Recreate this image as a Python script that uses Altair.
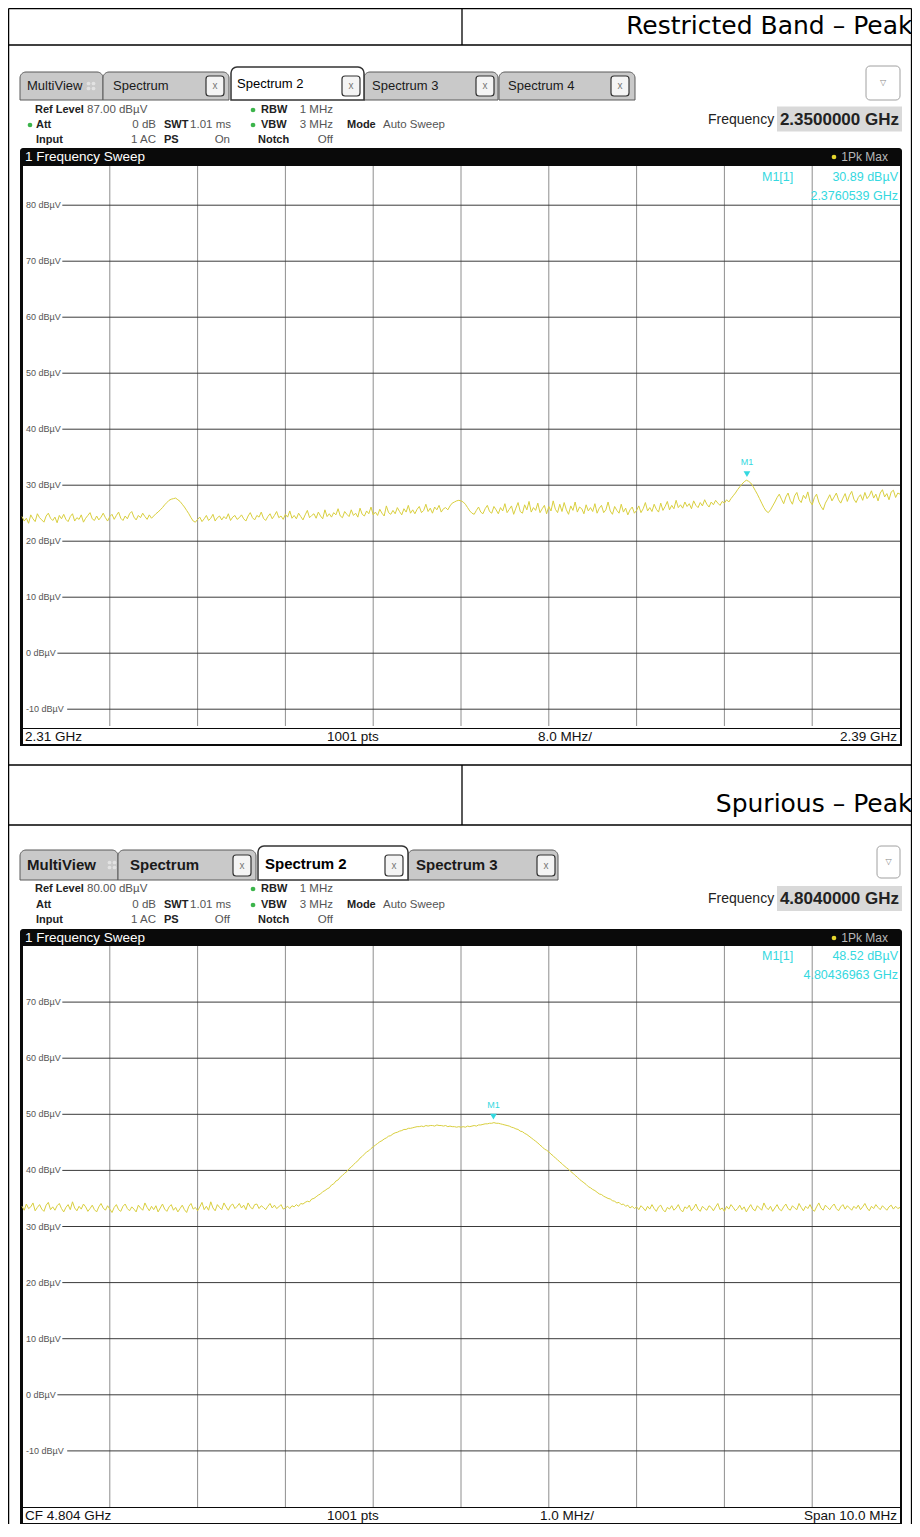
import altair as alt
import pandas as pd

# ---------------- data ----------------
P1_START, P1_STOP = 2.31, 2.39          # GHz
P1_YDOM = [-13, 87]                      # dBµV (ref level 87)
P1_XGRID = [2.318, 2.326, 2.334, 2.342, 2.350, 2.358, 2.366, 2.374, 2.382]
P1_YGRID = [80, 70, 60, 50, 40, 30, 20, 10, 0, -10]
P1_MARKER = [2.3760539, 30.89]
P1_LEVELS = [
    24.4, 23.6, 24.1, 23.2, 24.7, 24.0, 23.5, 24.9, 24.2, 23.8, 23.4, 24.5, 25.0, 24.1, 23.7, 24.3, 23.3, 24.6, 24.0, 24.8,
    23.9, 23.5, 24.4, 24.9, 23.6, 24.2, 23.9, 24.7, 23.4, 24.1, 24.6, 25.1, 24.0, 23.7, 24.5, 23.8, 24.3, 25.0, 24.2, 23.6,
    24.4, 24.8, 23.9, 24.6, 25.2, 24.1, 23.7, 24.5, 24.0, 24.9, 25.3, 24.3, 23.8, 24.6, 24.2, 25.0, 24.4, 23.9, 24.7, 24.1,
    24.5, 24.9, 25.2, 25.6, 26.0, 26.5, 26.9, 27.3, 27.5, 27.6, 27.7, 27.4, 27.1, 26.6, 26.1, 25.5, 24.9, 24.2, 23.6, 23.4,
    23.9, 24.3, 23.5, 24.0, 24.6, 23.7, 24.1, 24.8, 23.6, 24.2, 24.5, 23.8, 24.4, 24.0, 24.9, 23.7, 24.3, 24.6, 23.9, 24.2,
    24.7, 24.0, 23.6, 24.5, 25.1, 24.2, 23.8, 24.6, 24.3, 25.2, 24.1, 23.7, 24.4, 24.9, 24.0, 24.6, 25.3, 24.2, 24.5, 23.9,
    24.8, 24.3, 25.4, 24.1, 24.6, 24.0, 25.0, 24.4, 23.8, 24.7, 25.5, 24.2, 24.6, 24.9, 24.1, 25.2, 24.5, 24.0, 25.6, 24.4,
    24.9, 24.3, 25.1, 24.7, 25.8, 24.5, 24.2, 25.3, 24.8, 24.4, 25.6, 24.6, 25.0, 24.3, 25.9, 24.8, 24.5, 25.4, 24.9, 26.1,
    24.7, 25.2, 24.6, 25.7, 25.0, 24.5, 26.3, 25.1, 24.8, 25.5, 24.9, 26.0, 25.3, 24.7, 25.8, 25.2, 26.4, 25.0, 25.6, 24.9,
    25.7, 26.2, 25.1, 25.5, 26.6, 25.3, 25.9, 25.0, 26.1, 25.6, 26.4, 25.2, 25.8, 26.0, 25.6, 26.3, 26.8, 27.0, 27.2, 27.3,
    27.2, 27.0, 26.6, 26.0, 25.4, 25.0, 24.8, 25.5, 26.1, 25.2, 24.9, 25.8, 26.4, 25.3, 25.0, 26.2, 25.6, 24.9, 26.0, 25.4,
    26.7, 25.1, 25.7, 26.3, 24.8, 25.9, 26.9, 25.3, 25.0, 26.5, 25.6, 27.1, 25.2, 26.0, 25.5, 26.8, 25.1, 25.8, 26.4, 24.9,
    26.2, 25.4, 27.2, 25.7, 25.1, 26.6, 25.3, 26.9, 25.6, 24.8, 26.3, 25.5, 27.0, 25.2, 26.1, 25.8, 24.9, 26.5, 25.4, 26.0,
    25.3, 26.7, 25.0, 25.9, 26.4, 25.1, 25.6, 27.0, 25.4, 24.8, 26.2, 25.5, 25.0, 26.6, 25.2, 25.9, 24.7, 25.6, 26.1, 25.0,
    25.5, 26.3, 25.1, 25.8, 26.9, 25.4, 26.0, 25.3, 26.6, 25.7, 25.2, 26.8, 25.5, 26.2, 27.1, 25.6, 26.4, 25.8, 27.3, 26.0,
    26.5, 25.9, 27.0, 26.2, 26.7, 25.8, 27.2, 26.4, 26.0, 26.9, 26.3, 27.4, 26.6, 26.1, 27.0, 26.5, 27.3, 26.8, 26.4, 27.1,
    26.8, 27.4, 27.0, 27.6, 28.1, 28.6, 29.2, 29.7, 30.2, 30.6, 30.89, 30.7, 30.4, 29.8, 29.1, 28.4, 27.6, 26.8, 26.0, 25.4,
    25.1, 25.6, 26.3, 27.0, 27.8, 28.4, 27.5, 26.7, 27.9, 28.6, 27.3, 26.6, 28.1, 28.7, 27.4, 26.9, 28.2, 27.6, 28.8, 27.1,
    26.5, 27.8, 28.4, 27.0, 26.2, 25.6, 26.8, 27.5, 28.3, 27.2, 27.9, 28.6, 27.4, 26.8, 27.7, 28.5, 27.1, 28.2, 28.9, 27.5,
    26.9, 27.8, 28.3, 27.3, 28.7, 27.6, 28.1, 29.0, 27.7, 28.4, 27.2, 28.6, 29.2, 27.9, 28.5, 27.4, 28.8, 29.1, 27.8, 28.6,
    28.4,
]

P2_START, P2_STOP = 4.799, 4.809         # GHz (CF 4.804, span 10 MHz)
P2_YDOM = [-20, 80]                      # dBµV (ref level 80)
P2_XGRID = [4.800, 4.801, 4.802, 4.803, 4.804, 4.805, 4.806, 4.807, 4.808]
P2_YGRID = [70, 60, 50, 40, 30, 20, 10, 0, -10]
P2_MARKER = [4.80436963, 48.52]
P2_LEVELS = [
    33.6, 32.9, 34.0, 33.2, 33.5, 34.2, 32.8, 33.4, 33.9, 33.1, 32.7, 33.8, 34.3, 33.0, 33.5, 32.9, 33.7, 34.1, 33.2, 32.6,
    33.4, 33.9, 33.0, 34.4, 33.3, 32.8, 33.6, 33.1, 34.0, 33.5, 32.7, 33.2, 33.8, 33.0, 32.6, 33.5, 34.1, 33.3, 32.9, 33.7,
    33.1, 32.5, 33.4, 33.9, 33.0, 32.7, 33.6, 34.0, 33.2, 32.8, 33.5, 33.1, 32.6, 33.8, 33.3, 32.9, 34.2, 33.4, 32.8, 33.6,
    33.0, 33.7, 32.6, 33.3, 34.0, 33.1, 32.7, 33.5, 33.9, 32.9, 33.4, 32.6, 33.2, 33.8, 33.0, 32.5, 33.6, 34.1, 33.1, 33.4,
    32.8, 33.5, 34.3, 33.0, 33.6, 32.9, 34.4, 33.3, 32.8, 33.9, 33.4, 33.0, 34.2, 33.5, 32.9, 33.7, 34.0, 33.2, 33.6, 34.1,
    33.3, 33.8, 33.0, 34.2, 33.5, 33.1, 33.9, 34.0, 33.2, 33.7, 33.4, 33.0, 33.6, 34.1, 33.3, 33.8, 33.2, 33.5, 33.9, 33.1,
    33.3, 33.6, 33.2, 33.7, 33.5, 33.9, 33.6, 34.1, 34.0, 34.3, 34.5, 34.4, 34.9, 35.0, 35.3, 35.6, 35.8, 36.2, 36.4, 36.7,
    36.9, 37.4, 37.6, 38.1, 38.3, 38.8, 39.1, 39.5, 39.8, 40.3, 40.6, 41.0, 41.4, 41.7, 42.2, 42.5, 42.9, 43.3, 43.5, 43.9,
    44.2, 44.5, 44.8, 45.1, 45.3, 45.6, 45.8, 46.1, 46.2, 46.5, 46.7, 46.8, 47.0, 47.1, 47.3, 47.3, 47.5, 47.5, 47.6, 47.7,
    47.8, 47.8, 47.9, 47.8, 48.0, 47.9, 48.0, 48.0, 47.9, 48.1, 48.0, 48.0, 47.9, 48.0, 47.8, 47.9, 47.8, 47.8, 47.7, 47.8,
    47.7, 47.8, 47.7, 47.9, 47.8, 47.9, 48.0, 47.9, 48.1, 48.1, 48.2, 48.3, 48.3, 48.4, 48.4, 48.52, 48.4, 48.4, 48.3, 48.2,
    48.1, 48.0, 47.9, 47.7, 47.6, 47.4, 47.3, 47.0, 46.9, 46.6, 46.4, 46.1, 45.8, 45.5, 45.2, 44.9, 44.5, 44.2, 43.8, 43.6,
    43.3, 42.9, 42.6, 42.2, 41.9, 41.5, 41.2, 40.8, 40.5, 40.2, 39.8, 39.5, 39.1, 38.8, 38.4, 38.1, 37.8, 37.5, 37.1, 36.9,
    36.6, 36.4, 36.1, 35.8, 35.7, 35.4, 35.2, 35.0, 34.9, 34.6, 34.5, 34.2, 34.3, 33.9, 34.0, 33.6, 33.8, 33.3, 33.6, 33.2,
    33.5, 33.0, 33.7, 33.3, 32.8, 33.6, 33.1, 33.9, 33.2, 32.7, 33.5, 33.8, 33.0, 32.6, 33.4, 33.1, 33.7, 32.9, 33.3, 33.9,
    33.0, 32.6, 33.5, 33.2, 33.8, 32.8, 33.3, 34.0, 33.1, 32.7, 33.6, 33.2, 32.9, 33.7, 33.4, 32.8, 33.5, 34.1, 33.0, 33.3,
    32.7, 33.6, 33.1, 33.9, 33.4, 32.8, 33.2, 33.8, 33.0, 33.5, 32.6, 33.3, 33.9, 33.1, 32.8, 33.7, 33.3, 32.9, 34.2, 33.4,
    33.0, 33.6, 32.7, 33.3, 33.9, 33.1, 32.8, 33.5, 34.0, 33.2, 32.9, 33.7, 33.3, 33.0, 34.1, 33.4, 32.8, 33.6, 33.2, 33.9,
    33.1, 32.7, 33.5, 34.2, 33.3, 32.9, 33.8, 33.4, 33.0, 33.6, 34.0, 33.2, 32.8, 33.5, 33.9, 33.1, 33.7, 33.3, 32.9, 33.6,
    33.2, 33.8, 33.0, 33.5, 34.1, 33.3, 32.8, 33.6, 33.2, 33.9, 33.4, 33.0, 33.7, 33.3, 32.9, 33.5, 33.8, 33.1, 33.6, 33.2,
    33.4,
]

# ---------------- style ----------------
FONT = "Liberation Sans, Arial, sans-serif"
TFONT = "DejaVu Sans, Liberation Sans, sans-serif"
CYAN = "#34d8e0"
YEL = "#d9cf3e"
OFF = 8  # page margin -> chart coordinates
RIGHT = 911.5  # right border of the page table (page px)


def _df(rows, cols):
    recs = []
    for r in rows:
        d = {}
        for c, v in zip(cols, r):
            d[c] = v - OFF if c in ("x", "y", "x2", "y2") else v
        recs.append(d)
    return pd.DataFrame(recs)


def rects(rows, **props):
    df = _df(rows, ["x", "y", "x2", "y2"])
    return alt.Chart(df).mark_rect(**props).encode(
        x=alt.X("x:Q", scale=None, axis=None), x2="x2:Q",
        y=alt.Y("y:Q", scale=None, axis=None), y2="y2:Q")


def rules(rows, **props):
    df = _df(rows, ["x", "y", "x2", "y2"])
    return alt.Chart(df).mark_rule(**props).encode(
        x=alt.X("x:Q", scale=None, axis=None), x2="x2:Q",
        y=alt.Y("y:Q", scale=None, axis=None), y2="y2:Q")


def texts(rows, **props):
    df = _df(rows, ["x", "y", "t"])
    p = dict(baseline="middle", font=FONT)
    p.update(props)
    return alt.Chart(df).mark_text(**p).encode(
        x=alt.X("x:Q", scale=None, axis=None),
        y=alt.Y("y:Q", scale=None, axis=None), text="t:N")


def dots(rows, **props):
    df = _df(rows, ["x", "y"])
    return alt.Chart(df).mark_circle(opacity=1, **props).encode(
        x=alt.X("x:Q", scale=None, axis=None),
        y=alt.Y("y:Q", scale=None, axis=None))


def spectrum(levels, start, stop, xgrid, ygrid, ydom, top, bottom, marker):
    xs = alt.Scale(domain=[start, stop], range=[22 - OFF, 900 - OFF], nice=False, zero=False)
    ys = alt.Scale(domain=ydom, range=[bottom - OFF, top - OFF], nice=False, zero=False)
    n = len(levels)
    step = (stop - start) / (n - 1)
    tr = pd.DataFrame({"f": [start + i * step for i in range(n)], "v": levels})
    vg = pd.DataFrame({"f": xgrid})
    labs = [f"{v} dBµV" for v in ygrid]
    hg = pd.DataFrame({"v": ygrid, "lab": labs,
                       "lx": [26 - OFF + len(s) * 4.9 + 2 for s in labs]})
    mk = pd.DataFrame({"f": [marker[0]], "v": [marker[1]], "t": ["M1"]})
    out = []
    out.append(alt.Chart(vg).mark_rule(color="#8e8e8e", strokeWidth=1).encode(
        x=alt.X("f:Q", scale=xs, axis=None),
        y=alt.value(top - OFF), y2=alt.value(bottom - OFF)))
    out.append(alt.Chart(hg).mark_rule(color="#3a3a3a", strokeWidth=1).encode(
        y=alt.Y("v:Q", scale=ys, axis=None),
        x=alt.X("lx:Q", scale=None, axis=None), x2=alt.value(900 - OFF)))
    out.append(alt.Chart(hg).mark_text(align="left", baseline="middle", fontSize=9,
                                       color="#555555", font=FONT).encode(
        x=alt.value(26 - OFF), y=alt.Y("v:Q", scale=ys, axis=None), text="lab:N"))
    out.append(alt.Chart(tr).mark_line(color=YEL, strokeWidth=1).encode(
        x=alt.X("f:Q", scale=xs, axis=None), y=alt.Y("v:Q", scale=ys, axis=None)))
    out.append(alt.Chart(mk).mark_point(shape="triangle-down", filled=True, color=CYAN,
                                        size=45, opacity=1, yOffset=-6).encode(
        x=alt.X("f:Q", scale=xs, axis=None), y=alt.Y("v:Q", scale=ys, axis=None)))
    out.append(alt.Chart(mk).mark_text(color=CYAN, fontSize=9, font=FONT, yOffset=-18).encode(
        x=alt.X("f:Q", scale=xs, axis=None), y=alt.Y("v:Q", scale=ys, axis=None), text="t:N"))
    return out


def panel(tabs, active, xboxes, tabtexts, activetext, tabfont, mv_icon, dropdown,
          info_y, att_dot, refl, ps_val, freq_val, title_y, footer_y, footer, plot_top,
          plot_bottom):
    L = []
    # tabs
    L.append(rects(tabs, fill="#c9c9c9", stroke="#5a5a5a", strokeWidth=1,
                   cornerRadiusTopLeft=6, cornerRadiusTopRight=6))
    L.append(rects([active], fill="#ffffff", stroke="#333333", strokeWidth=1.5,
                   cornerRadiusTopLeft=6, cornerRadiusTopRight=6))
    L.append(rects(xboxes, fill="#f4f4f4", stroke="#333333", strokeWidth=1.2, cornerRadius=3))
    L.append(texts([(b[0] / 2 + b[2] / 2, b[1] / 2 + b[3] / 2, "x") for b in xboxes],
                   align="center", fontSize=10, color="#777777"))
    L.append(texts(tabtexts, align="left", color="#1a1a1a", **tabfont))
    L.append(texts([activetext], align="left", color="#000000", **tabfont))
    L.append(dots([(mv_icon[0] - 2.5, mv_icon[1] - 2.5), (mv_icon[0] + 2.5, mv_icon[1] - 2.5),
                   (mv_icon[0] - 2.5, mv_icon[1] + 2.5), (mv_icon[0] + 2.5, mv_icon[1] + 2.5)],
                  color="#e2e2e2", size=14))
    L.append(rects([dropdown], fill="#ffffff", stroke="#a0a0a0", strokeWidth=1, cornerRadius=4))
    L.append(texts([((dropdown[0] + dropdown[2]) / 2, (dropdown[1] + dropdown[3]) / 2, "▽")],
                   align="center", fontSize=8, color="#888888", font=TFONT))
    # info block
    r1, r2, r3 = info_y
    gd = [(253, r1), (253, r2)] + ([(30, r2)] if att_dot else [])
    L.append(dots(gd, color="#3cb44b", size=22))
    L.append(texts([(35, r1, "Ref Level"), (36, r2, "Att"), (36, r3, "Input"),
                    (164, r2, "SWT"), (164, r3, "PS"), (261, r1, "RBW"), (261, r2, "VBW"),
                    (258, r3, "Notch"), (347, r2, "Mode")],
                   align="left", fontSize=11, fontWeight="bold", color="#222222"))
    L.append(texts([(87, r1, refl), (383, r2, "Auto Sweep")],
                   align="left", fontSize=11.5, color="#555555"))
    L.append(texts([(156, r2, "0 dB"), (156, r3, "1 AC"), (231, r2, "1.01 ms"),
                    (230, r3, ps_val), (333, r1, "1 MHz"), (333, r2, "3 MHz"),
                    (333, r3, "Off")],
                   align="right", fontSize=11.5, color="#555555"))
    fy = (r1 + r2) / 2 + 2
    L.append(texts([(708, fy, "Frequency")], align="left", fontSize=14, color="#222222"))
    L.append(rects([(777, fy - 13, 902, fy + 12)], fill="#d9d9d9"))
    L.append(texts([(899, fy, freq_val)], align="right", fontSize=17, fontWeight="bold",
                   color="#222222"))
    # frame, title bar, plot area, footer
    L.append(rects([(20, title_y - 9, 902, footer_y + 9)], fill="#0a0a0a",
                   cornerRadiusTopLeft=3, cornerRadiusTopRight=3))
    L.append(rects([(23, plot_top, 900, plot_bottom)], fill="#ffffff"))
    L.append(rects([(23, plot_bottom + 1, 900, footer_y + 7)], fill="#ffffff"))
    L.append(texts([(25, title_y, "1 Frequency Sweep")], align="left", fontSize=13.5,
                   color="#ffffff"))
    L.append(dots([(834, title_y)], color="#e6d62e", size=22))
    L.append(texts([(888, title_y, "1Pk Max")], align="right", fontSize=12, color="#b8b8b8"))
    L.append(texts(footer[0], align="left", fontSize=13.5, color="#111111"))
    L.append(texts(footer[1], align="right", fontSize=13.5, color="#111111"))
    return L


layers = []
# page background table
layers.append(rules([(8.6, 8.6, RIGHT, 8.6), (8.6, 45, RIGHT, 45), (8.6, 765, RIGHT, 765),
                     (8.6, 825, RIGHT, 825), (8.6, 8.6, 8.6, 1537), (RIGHT, 8.6, RIGHT, 1537),
                     (462, 8.6, 462, 45), (462, 765, 462, 825)], color="#000000",
                    strokeWidth=1.3))
layers.append(texts([(RIGHT + 1, 34, "Restricted Band – Peak")], align="right",
                    baseline="alphabetic", fontSize=25, font=TFONT, color="#000000"))
layers.append(texts([(RIGHT + 1, 812, "Spurious – Peak")], align="right", baseline="alphabetic",
                    fontSize=25, font=TFONT, color="#000000"))

# ----- panel 1 -----
layers += panel(
    tabs=[(20, 72, 103, 100), (103, 72, 229, 100), (364, 72, 498, 100), (499, 72, 635, 100)],
    active=(231, 67, 364, 100),
    xboxes=[(206, 76, 224, 96), (342, 76, 360, 96), (476, 76, 494, 96), (611, 76, 629, 96)],
    tabtexts=[(27, 86, "MultiView"), (113, 86, "Spectrum"), (372, 86, "Spectrum 3"),
              (508, 86, "Spectrum 4")],
    activetext=(237, 84, "Spectrum 2"),
    tabfont=dict(fontSize=13),
    mv_icon=(91, 86),
    dropdown=(866, 66, 900, 100),
    info_y=(110, 125, 140), att_dot=True, refl="87.00 dBµV", ps_val="On",
    freq_val="2.3500000 GHz", title_y=157, footer_y=737,
    footer=([(25, 737, "2.31 GHz"), (327, 737, "1001 pts"), (538, 737, "8.0 MHz/")],
            [(897, 737, "2.39 GHz")]),
    plot_top=166, plot_bottom=728)
layers += spectrum(P1_LEVELS, P1_START, P1_STOP, P1_XGRID, P1_YGRID, P1_YDOM, 166, 726, P1_MARKER)
layers.append(texts([(762, 177, "M1[1]")], align="left", fontSize=12.5, color=CYAN))
layers.append(texts([(898, 177, "30.89 dBµV"), (898, 196, "2.3760539 GHz")], align="right",
                    fontSize=12.5, color=CYAN))

# ----- panel 2 -----
layers += panel(
    tabs=[(20, 850, 118, 880), (118, 850, 256, 880), (408, 850, 558, 880)],
    active=(258, 846, 408, 880),
    xboxes=[(233, 855, 251, 876), (385, 855, 403, 876), (537, 855, 555, 876)],
    tabtexts=[(27, 865, "MultiView"), (130, 865, "Spectrum"), (416, 865, "Spectrum 3")],
    activetext=(265, 864, "Spectrum 2"),
    tabfont=dict(fontSize=15, fontWeight="bold"),
    mv_icon=(112, 865),
    dropdown=(877, 846, 900, 878),
    info_y=(889, 905, 920), att_dot=False, refl="80.00 dBµV", ps_val="Off",
    freq_val="4.8040000 GHz", title_y=938, footer_y=1516,
    footer=([(25, 1516, "CF 4.804 GHz"), (327, 1516, "1001 pts"), (540, 1516, "1.0 MHz/")],
            [(897, 1516, "Span 10.0 MHz")]),
    plot_top=946, plot_bottom=1507)
layers += spectrum(P2_LEVELS, P2_START, P2_STOP, P2_XGRID, P2_YGRID, P2_YDOM, 946, 1507, P2_MARKER)
layers.append(texts([(762, 956, "M1[1]")], align="left", fontSize=12.5, color=CYAN))
layers.append(texts([(898, 956, "48.52 dBµV"), (898, 975, "4.80436963 GHz")], align="right",
                    fontSize=12.5, color=CYAN))

chart = alt.layer(*layers).resolve_scale(
    x="independent", y="independent"
).properties(
    width=904, height=1516, padding=0, background="white",
    autosize=alt.AutoSizeParams(type="none")
).configure_view(stroke=None)

chart.save("out.html", embed_options={"renderer": "svg", "actions": False})
